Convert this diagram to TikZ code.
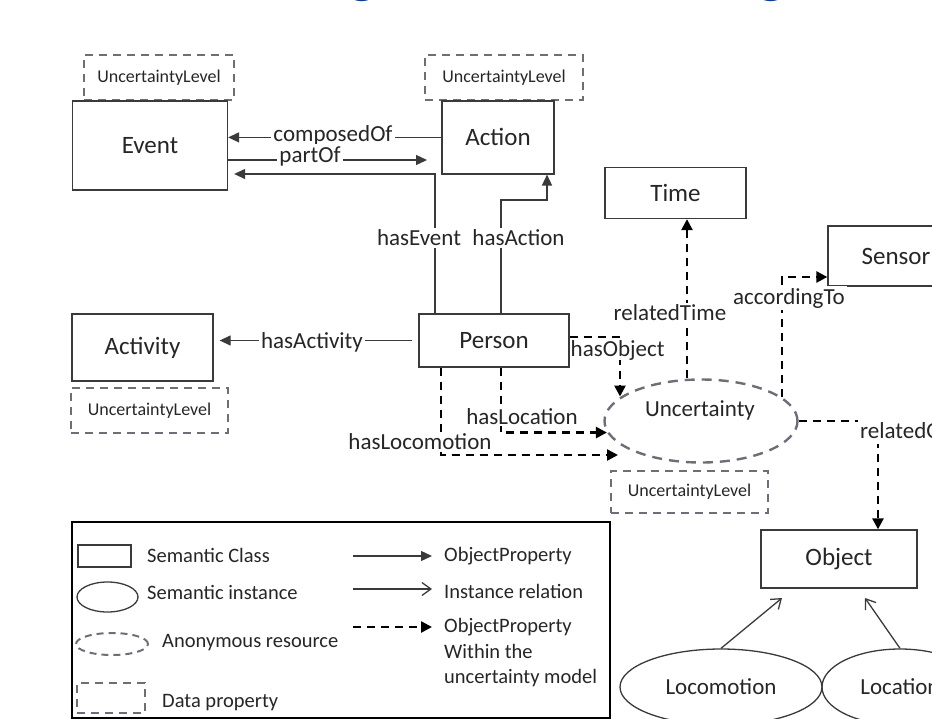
\documentclass[tikz,border=0pt]{standalone}
\usepackage{fontspec}
\setmainfont{Carlito}
\usetikzlibrary{arrows.meta,shapes.geometric}
\definecolor{linegray}{HTML}{3A3A3A}
\definecolor{dashgray}{HTML}{6E6E78}
\definecolor{titleblue}{HTML}{0D3B8E}
\definecolor{textgray}{HTML}{262626}

\begin{document}
\begin{tikzpicture}[x=1pt,y=-1pt,
  class/.style={draw=linegray,line width=1.3pt,rectangle,inner sep=0pt,font=\fontsize{25}{30}\selectfont,text=textgray},
  inst/.style={draw=linegray,line width=1.3pt,ellipse,inner sep=0pt,font=\fontsize{23}{28}\selectfont,text=textgray},
  anon/.style={draw=dashgray,line width=2.4pt,dash pattern=on 10pt off 7pt,ellipse,inner sep=0pt},
  datap/.style={draw=dashgray,line width=2pt,dash pattern=on 8pt off 6pt,rectangle,inner sep=0pt,font=\fontsize{18}{22}\selectfont,text=textgray},
  lbl/.style={fill=white,inner sep=2pt,font=\fontsize{23}{28}\selectfont,text=textgray},
  objprop/.style={draw=linegray,line width=1.3pt,-{Triangle[length=11pt,width=10pt]}},
  inrel/.style={draw=linegray,line width=1.3pt,-{Straight Barb[length=9pt,width=13pt]}},
  uncprop/.style={draw=black,line width=2.5pt,dash pattern=on 8pt off 6pt,-{Triangle[length=11pt,width=11pt]}},
  legtxt/.style={anchor=west,inner sep=0pt,font=\fontsize{20.5}{25.5}\selectfont,text=textgray}]
\useasboundingbox (0,0) rectangle (932,718);
\clip (0,0) rectangle (932,718);

% heading, cut at the top
\node[anchor=base,inner sep=0pt,text=titleblue,font=\fontsize{60}{60}\selectfont\bfseries] (ttlA) at (363,-9) {g};
\node[anchor=base,inner sep=0pt,text=titleblue,font=\fontsize{60}{60}\selectfont\bfseries] (ttlB) at (772,-9) {g};

% classes
\node[datap,minimum width=150pt,minimum height=45pt] (evUL) at (159,77.5) {UncertaintyLevel};
\node[class,fill=white,minimum width=155pt,minimum height=89pt] (Event) at (150,145.4) {Event};
\node[datap,minimum width=158pt,minimum height=45pt] (acUL) at (504,77.5) {UncertaintyLevel};
\node[class,fill=white,minimum width=112pt,minimum height=73pt] (Action) at (498,137.4) {Action};
\node[class,minimum width=141pt,minimum height=51pt] (Time) at (675.5,193) {Time};
\node[class,minimum width=136pt,minimum height=60pt] (Sensor) at (896,256) {Sensor};
\node[class,minimum width=150pt,minimum height=53pt] (Person) at (494,340.5) {Person};
\node[class,minimum width=141pt,minimum height=67pt] (Activity) at (142.5,347.5) {Activity};
\node[datap,minimum width=157pt,minimum height=45pt] (avUL) at (149.5,410.5) {UncertaintyLevel};
\node[anon,minimum width=193pt,minimum height=83pt] (Unc) at (701,421) {};
\node[lbl,fill=none] (uncT) at (700,410) {Uncertainty};
\node[datap,minimum width=157pt,minimum height=42pt] (unUL) at (689.5,492) {UncertaintyLevel};
\node[class,minimum width=156pt,minimum height=58pt] (Object) at (839,559) {Object};
\node[inst,minimum width=202pt,minimum height=76pt] (Loco) at (721,687) {Locomotion};
\node[inst,minimum width=156pt,minimum height=76pt] (Loc) at (900,687) {Location};

% object properties
\draw[objprop] (Action.west) -- (Action.west -| Event.east);
\node[lbl] (lcomp) at (333,135) {composedOf};
\coordinate (pend) at (427,160);
\draw[objprop] (Event.east |- pend) -- (pend);
\node[lbl] (lpart) at (310,156) {partOf};
\coordinate (evc) at (435,174);
\draw[objprop,shorten >=6pt] (Person.north -| evc) -- (evc) -- (evc -| Event.east);
\coordinate (acc) at (501,200);
\coordinate (acd) at (547,200);
\draw[objprop] (Person.north -| acc) -- (acc) -- (acd) -- (acd |- Action.south);
\node[lbl] (lev) at (419,238) {hasEvent};
\node[lbl] (lac) at (518.5,238) {hasAction};
\draw[objprop,shorten <=6pt,shorten >=6pt] (Person.west) -- (Person.west -| Activity.east);
\node[lbl] (lact) at (312,342) {hasActivity};

% uncertainty model
\coordinate (obc) at (620,337);
\draw[uncprop] (Person.east |- obc) -- (obc) -- (obc |- Unc.163);
\node[lbl,anchor=west,inner sep=0.5pt] (lobj) at (570,350) {hasObject};
\coordinate (lcc) at (501,433);
\draw[uncprop] (Person.south -| lcc) |- (Unc.187);
\node[lbl,inner sep=1pt] (lloc) at (522,417) {hasLocation};
\coordinate (lmc) at (441,455);
\coordinate (lme) at (618,455);
\draw[uncprop] (Person.south -| lmc) -- (lmc) -- (lme);
\node[lbl,inner sep=1pt] (llm) at (420,442) {hasLocomotion};
\coordinate (rtc) at (687,0);
\draw[uncprop] (Unc.north -| rtc) -- (Time.south -| rtc);
\node[lbl] (lrt) at (670,313) {relatedTime};
\coordinate (atc) at (782,277);
\draw[uncprop] (atc |- Unc.17) -- (atc) -- (atc -| Sensor.west);
\node[lbl] (lat) at (789,298) {accordingTo};
\coordinate (roc) at (878,421);
\draw[uncprop] (Unc.east) -- (roc) -- (roc |- Object.north);
\node[lbl,anchor=west] (lro) at (858,432) {relatedObject};

% instance relations
\coordinate (olt) at (782,598);
\coordinate (ort) at (865,598);
\draw[inrel] (Loco.north) -- (olt);
\draw[inrel] (Loc.north) -- (ort);

% legend
\draw[line width=2.5pt] (72,522) rectangle (610,718);
\node[class,minimum width=53pt,minimum height=22pt] (legC) at (104.5,556) {};
\node[inst,minimum width=61pt,minimum height=30pt] (legI) at (107.5,597) {};
\node[anon,minimum width=72pt,minimum height=22pt,line width=2pt,dash pattern=on 7pt off 5pt] (legA) at (112,644) {};
\node[datap,minimum width=68pt,minimum height=30pt] (legD) at (111,698) {};
\node[legtxt] (tC) at (147,555) {Semantic Class};
\node[legtxt] (tI) at (147,592) {Semantic instance};
\node[legtxt] (tA) at (162,643) {Anonymous resource};
\node[legtxt] (tD) at (162,703) {Data property};
\node[legtxt] (tP) at (444,556) {ObjectProperty};
\node[legtxt] (tR) at (444,591) {Instance relation};
\node[legtxt,align=left] (tU) at (444,653) {ObjectProperty\\Within the\\uncertainty model};
\coordinate (la1) at (353,556);
\coordinate (la2) at (353,589);
\coordinate (la3) at (353,627);
\draw[objprop,shorten >=12pt] (la1) -- (tP.west |- la1);
\draw[inrel,shorten >=12pt] (la2) -- (tR.west |- la2);
\draw[uncprop,shorten >=12pt] (la3) -- (tU.west |- la3);
\end{tikzpicture}
\end{document}
